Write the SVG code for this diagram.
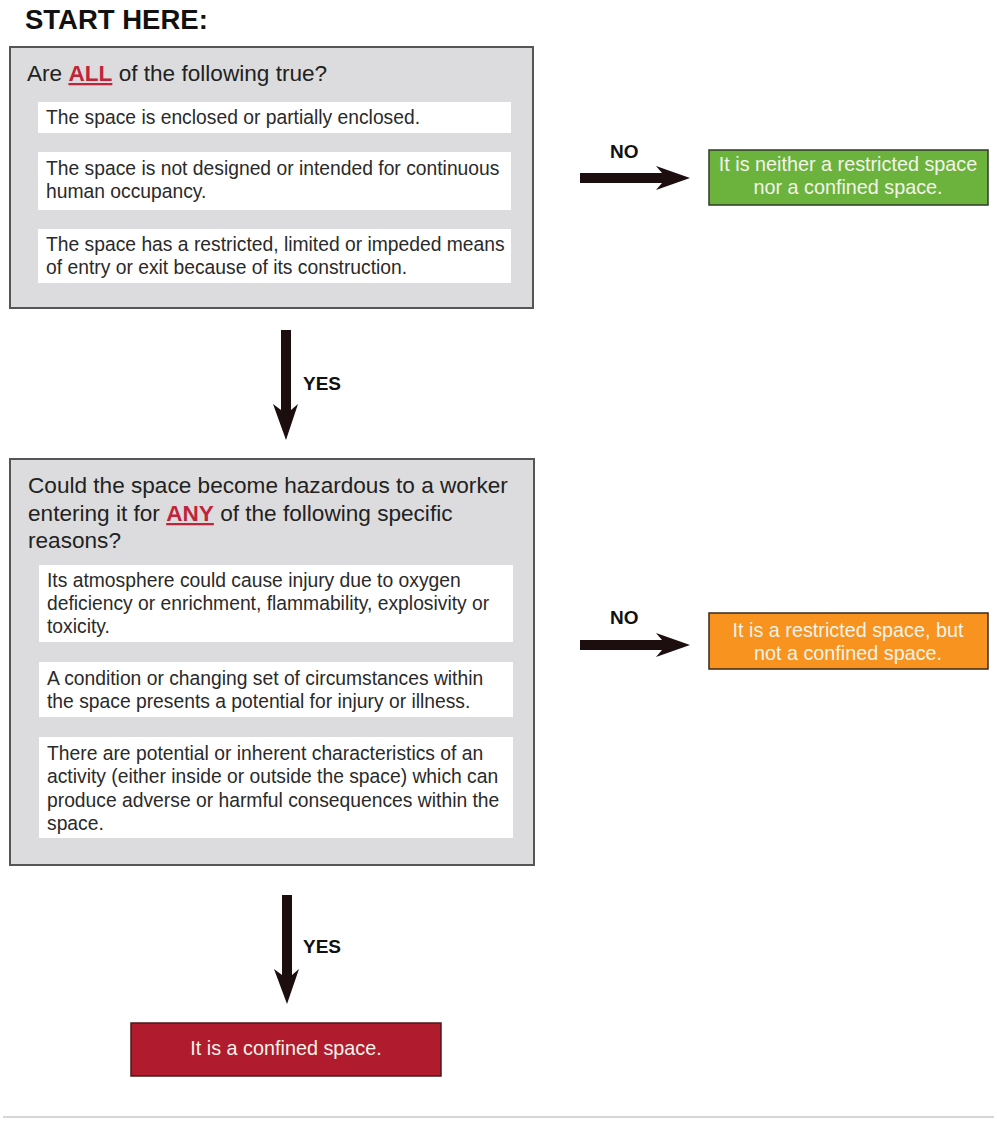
<svg xmlns="http://www.w3.org/2000/svg" width="997" height="1122" viewBox="0 0 997 1122">
<style>
  text { font-family: "Liberation Sans", Arial, Helvetica, sans-serif; }
  .title { font-size: 27.5px; font-weight: bold; fill: #111; }
  .q { font-size: 22.6px; fill: #222; }
  .item { font-size: 19.3px; fill: #2a2a2a; }
  .gbox { fill: #dcdcde; stroke: #555; stroke-width: 2; }
  .wbox { fill: #ffffff; }
  .em { fill: #c0243a; font-weight: bold; text-decoration: underline; }
  .lbl { font-size: 19px; font-weight: bold; fill: #111; }
  .res { font-size: 19.8px; fill: #f3f3ea; text-anchor: middle; }
  .arrow { fill: #1c0d0f; }
</style>

<text class="title" x="25" y="29">START HERE:</text>

<g id="q1">
  <rect class="gbox" x="10" y="47" width="523" height="261"/>
  <text class="q" x="27" y="81">Are <tspan class="em">ALL</tspan> of the following true?</text>
  <rect class="wbox" x="38" y="102" width="473" height="31"/>
  <text class="item" x="46" y="124">The space is enclosed or partially enclosed.</text>
  <rect class="wbox" x="38" y="152" width="473" height="58"/>
  <text class="item" x="46" y="175">The space is not designed or intended for continuous</text>
  <text class="item" x="46" y="198">human occupancy.</text>
  <rect class="wbox" x="38" y="229" width="473" height="54"/>
  <text class="item" x="46" y="251">The space has a restricted, limited or impeded means</text>
  <text class="item" x="46" y="274">of entry or exit because of its construction.</text>
</g>

<g id="r1">
  <rect x="709" y="150" width="279" height="55" fill="#6cb33e" stroke="#2f3a2a" stroke-width="1.5"/>
  <text class="res" x="848" y="171">It is neither a restricted space</text>
  <text class="res" x="848" y="194">nor a confined space.</text>
</g>

<g id="q2">
  <rect class="gbox" x="10" y="459" width="524" height="406"/>
  <text class="q" x="28" y="493">Could the space become hazardous to a worker</text>
  <text class="q" x="28" y="521">entering it for <tspan class="em">ANY</tspan> of the following specific</text>
  <text class="q" x="28" y="548">reasons?</text>
  <rect class="wbox" x="39" y="565" width="474" height="77"/>
  <text class="item" x="47" y="587">Its atmosphere could cause injury due to oxygen</text>
  <text class="item" x="47" y="610">deficiency or enrichment, flammability, explosivity or</text>
  <text class="item" x="47" y="633">toxicity.</text>
  <rect class="wbox" x="39" y="662" width="474" height="55"/>
  <text class="item" x="47" y="685">A condition or changing set of circumstances within</text>
  <text class="item" x="47" y="708">the space presents a potential for injury or illness.</text>
  <rect class="wbox" x="39" y="737" width="474" height="101"/>
  <text class="item" x="47" y="760">There are potential or inherent characteristics of an</text>
  <text class="item" x="47" y="783">activity (either inside or outside the space) which can</text>
  <text class="item" x="47" y="807">produce adverse or harmful consequences within the</text>
  <text class="item" x="47" y="830">space.</text>
</g>

<g id="r2">
  <rect x="709" y="613" width="279" height="56" fill="#f7931e" stroke="#3a2a1a" stroke-width="1.5"/>
  <text class="res" x="848" y="637">It is a restricted space, but</text>
  <text class="res" x="848" y="660">not a confined space.</text>
</g>

<g id="r3">
  <rect x="131" y="1023" width="310" height="53" fill="#b01c2e" stroke="#4a1a1a" stroke-width="1.5"/>
  <text class="res" x="286" y="1055">It is a confined space.</text>
</g>

<g id="connectors">
  <path class="arrow" d="M580,173 L662,173 L656,166 L690,178 L656,190 L662,183 L580,183 Z"/>
  <text class="lbl" x="610" y="158">NO</text>
  <path class="arrow" d="M580,640 L662,640 L656,633 L690,645 L656,657 L662,650 L580,650 Z"/>
  <text class="lbl" x="610" y="624">NO</text>
  <path class="arrow" d="M281,330 L291,330 L291,410 L298,404 L286,440 L273,404 L281,410 Z"/>
  <text class="lbl" x="303" y="390">YES</text>
  <path class="arrow" d="M282,895 L292,895 L292,975 L299,969 L287,1004 L274,969 L282,975 Z"/>
  <text class="lbl" x="303" y="953">YES</text>
</g>

<line x1="3" y1="1117" x2="994" y2="1117" stroke="#d6d6d6" stroke-width="2"/>
</svg>
